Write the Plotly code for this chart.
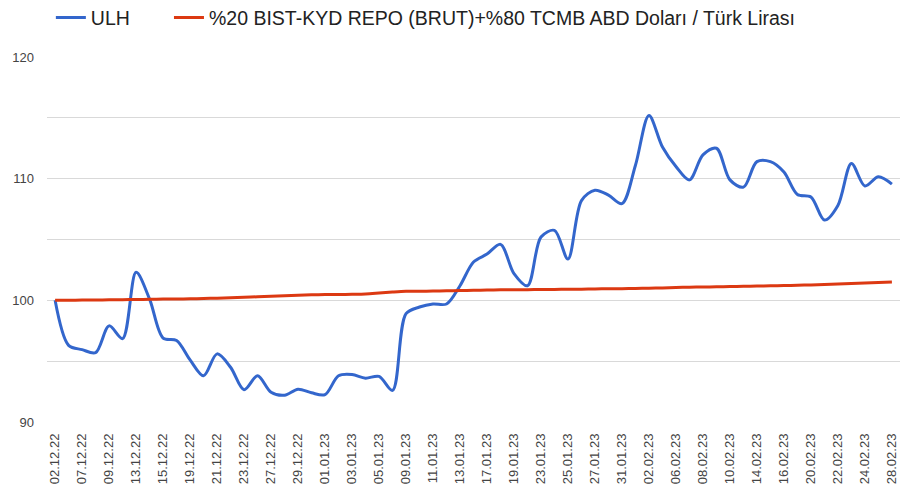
import plotly.graph_objects as go

dates = [
    "02.12.22", "05.12.22", "07.12.22", "08.12.22", "09.12.22", "12.12.22", "13.12.22", "14.12.22",
    "15.12.22", "16.12.22", "19.12.22", "20.12.22", "21.12.22", "22.12.22", "23.12.22", "26.12.22",
    "27.12.22", "28.12.22", "29.12.22", "30.12.22", "01.01.23", "02.01.23", "03.01.23", "04.01.23",
    "05.01.23", "06.01.23", "09.01.23", "10.01.23", "11.01.23", "12.01.23", "13.01.23", "16.01.23",
    "17.01.23", "18.01.23", "19.01.23", "20.01.23", "23.01.23", "24.01.23", "25.01.23", "26.01.23",
    "27.01.23", "30.01.23", "31.01.23", "01.02.23", "02.02.23", "03.02.23", "06.02.23", "07.02.23",
    "08.02.23", "09.02.23", "10.02.23", "13.02.23", "14.02.23", "15.02.23", "16.02.23", "17.02.23",
    "20.02.23", "21.02.23", "22.02.23", "23.02.23", "24.02.23", "27.02.23", "28.02.23",
]

ulh = [
    100.0, 96.3, 95.95, 95.7, 97.9, 96.85, 102.3, 100.1,
    96.9, 96.7, 95.1, 93.8, 95.6, 94.5, 92.65, 93.8,
    92.45, 92.2, 92.7, 92.4, 92.25, 93.8, 93.9, 93.6,
    93.75, 92.6, 98.9, 99.45, 99.7, 99.7, 101.2, 103.15,
    103.8, 104.6, 102.2, 101.2, 105.2, 105.75, 103.4, 108.2,
    109.05, 108.65, 107.95, 111.1, 115.2, 112.6, 111.0, 109.9,
    111.95, 112.5, 109.9, 109.3, 111.4, 111.4, 110.55, 108.7,
    108.5, 106.6, 107.8, 111.25, 109.4, 110.15, 109.55,
]

benchmark = [
    100.0, 100.01, 100.02, 100.03, 100.04, 100.05, 100.07, 100.08,
    100.1, 100.11, 100.13, 100.15, 100.18, 100.21, 100.25, 100.29,
    100.33, 100.38, 100.42, 100.45, 100.47, 100.48, 100.5, 100.53,
    100.6, 100.68, 100.74, 100.75, 100.76, 100.78, 100.8, 100.82,
    100.84, 100.86, 100.87, 100.88, 100.89, 100.9, 100.91, 100.92,
    100.94, 100.95, 100.96, 100.98, 101.0, 101.02, 101.05, 101.08,
    101.1, 101.11, 101.13, 101.15, 101.17, 101.19, 101.21, 101.24,
    101.27, 101.31, 101.35, 101.39, 101.43, 101.46, 101.5,
]

y_ticks = [90, 95, 100, 105, 110, 115, 120]
y_tick_text = ["90", "", "100", "", "110", "", "120"]

fig = go.Figure()
fig.add_trace(go.Scatter(
    x=dates, y=ulh, mode="lines", name="ULH", legend="legend",
    line=dict(color="#3366cc", width=3, shape="spline", smoothing=0.9),
))
fig.add_trace(go.Scatter(
    x=dates, y=benchmark, mode="lines", legend="legend2",
    name="%20 BIST-KYD REPO (BRUT)+%80 TCMB ABD Doları / Türk Lirası",
    line=dict(color="#dc3912", width=3, shape="spline", smoothing=0.9),
))

legend_common = dict(
    orientation="h", xref="container", yref="container",
    xanchor="left", yanchor="middle",
    font=dict(size=19.5, color="#222"),
    itemwidth=30, bgcolor="rgba(0,0,0,0)",
)

fig.update_layout(
    width=912, height=492,
    margin=dict(l=39, r=20, t=49, b=78),
    paper_bgcolor="white", plot_bgcolor="white",
    font=dict(family="Liberation Sans, Arial, sans-serif", color="#444"),
    showlegend=True,
    legend=dict(x=0.047, y=0.98, **legend_common),
    legend2=dict(x=0.1765, y=0.98, **legend_common),
    xaxis=dict(
        type="category", categoryorder="array", categoryarray=dates,
        tickmode="array", tickvals=dates[::2], ticktext=dates[::2],
        tickangle=-90, tickfont=dict(size=13, color="#444"),
        showgrid=False, zeroline=False, showline=False, ticks="",
        range=[-0.6, 62.6], automargin=False, ticklabelstandoff=8,
    ),
    yaxis=dict(
        range=[90, 120], tickmode="array", tickvals=y_ticks, ticktext=y_tick_text,
        tickfont=dict(size=13, color="#444"),
        showgrid=True, gridcolor="#d9d9d9", gridwidth=1,
        zeroline=False, showline=False, ticks="", ticklabelstandoff=12,
        automargin=False,
    ),
)

fig.write_html("out.html")
